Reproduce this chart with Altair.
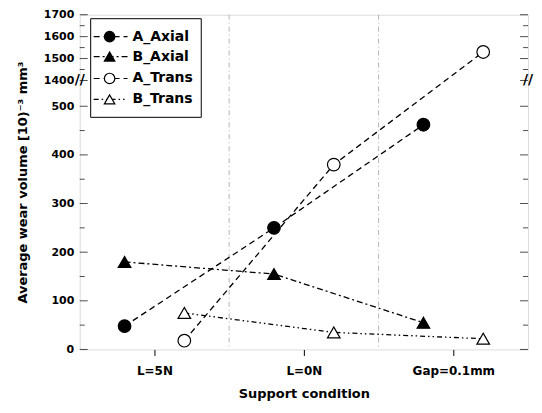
import altair as alt
import pandas as pd

conditions = ["L=5N", "L=0N", "Gap=0.1mm"]
series = ["A_Axial", "B_Axial", "A_Trans", "B_Trans"]
groups = ["Axial", "Axial", "Trans", "Trans"]
a_axial = [48, 250, 462]
b_axial = [180, 155, 55]
a_trans = [18, 380, 1530]
b_trans = [75, 35, 22]
values = [a_axial, b_axial, a_trans, b_trans]

major_ticks = [0, 100, 200, 300, 400, 500, 1400, 1500, 1600, 1700]
minor_ticks = [50, 150, 250, 350, 450, 1450, 1550, 1650]

rows = []
for s, g, vals in zip(series, groups, values):
    for c, v in zip(conditions, vals):
        rows.append({"cond": c, "series": s, "grp": g, "value": v})
df = pd.DataFrame(rows)

W, H = 450, 336
FONT = "DejaVu Sans"
cond_js = "[" + ",".join("'%s'" % c for c in conditions) + "]"

yscale = alt.Scale(domain=[0, 553, 1400, 1700], range=[H, 66, 66, 0])
xscale = alt.Scale(domain=[-0.5, len(conditions) - 0.5], nice=False, zero=False)

xaxis = alt.Axis(title="Support condition", values=list(range(len(conditions))),
                 labelExpr=cond_js + "[datum.value]", labelAngle=0, labelFont=FONT,
                 labelFontWeight="bold", labelFontSize=12, labelColor="black",
                 labelPadding=10, tickSize=6, tickColor="black", domain=False, grid=False,
                 titleFont=FONT, titleFontWeight="bold", titleFontSize=13,
                 titleColor="black", titlePadding=11)
yaxis = alt.Axis(values=major_ticks, format="d", labelOverlap=False,
                 title="Average wear volume [10)\u207b\u00b3 mm\u00b3",
                 labelFont=FONT, labelFontWeight="bold", labelFontSize=11,
                 labelColor="black", labelPadding=6, ticks=False, domain=False,
                 grid=False, titleFont=FONT, titleFontWeight="bold",
                 titleFontSize=13, titleColor="black", titlePadding=14)

dashes = [[6, 4], [6, 3, 2, 3], [6, 4], [5, 3, 1.5, 3, 1.5, 3]]
shapes = ["circle", "triangle-up", "circle", "triangle-up"]
fills = ["black", "black", "white", "white"]

base = alt.Chart(df).transform_calculate(
    xpos="indexof(" + cond_js + ", datum.cond) + (datum.grp == 'Axial' ? -0.2 : 0.2)"
)

sep_df = pd.DataFrame({"cond": conditions[:-1]})
separators = alt.Chart(sep_df).transform_calculate(
    xpos="indexof(" + cond_js + ", datum.cond) + 0.5"
).mark_rule(color="#b5b5b5", strokeDash=[5, 3, 1, 3], strokeWidth=1).encode(
    x=alt.X("xpos:Q", scale=xscale, axis=xaxis)
)

lines = base.mark_line(color="black", strokeWidth=1.3).encode(
    x=alt.X("xpos:Q", scale=xscale, axis=xaxis),
    y=alt.Y("value:Q", scale=yscale, axis=yaxis),
    strokeDash=alt.StrokeDash("series:N", scale=alt.Scale(domain=series, range=dashes), legend=None),
    detail="series:N",
)

points = base.mark_point(filled=True, stroke="black", strokeWidth=1.2, size=160, opacity=1).encode(
    x=alt.X("xpos:Q", scale=xscale, axis=xaxis),
    y=alt.Y("value:Q", scale=yscale, axis=yaxis),
    shape=alt.Shape("series:N", scale=alt.Scale(domain=series, range=shapes), legend=None),
    fill=alt.Fill("series:N", scale=alt.Scale(domain=series, range=fills), legend=None),
)

maj_df = pd.DataFrame({"v": major_ticks})
min_df = pd.DataFrame({"v": minor_ticks})
tick_layers = []
for d, sz in [(maj_df, 8), (min_df, 5)]:
    for xp in [sz / 2, W - sz / 2]:
        tick_layers.append(
            alt.Chart(d).mark_tick(orient="horizontal", color="black", size=sz, thickness=1).encode(
                y=alt.Y("v:Q", scale=yscale, axis=yaxis), x=alt.value(xp)
            )
        )

brk_df = pd.DataFrame({"v": [1400]})
breaks = [
    alt.Chart(brk_df).mark_text(text="//", font=FONT, fontSize=14, fontWeight="bold", color="black").encode(
        y=alt.Y("v:Q", scale=yscale, axis=yaxis), x=alt.value(xp)
    )
    for xp in [0, W]
]

leg_layers = [
    alt.Chart(pd.DataFrame({"a": [0]})).mark_rect(fill="white", stroke="black", strokeWidth=1).encode(
        x=alt.value(11), x2=alt.value(122), y=alt.value(4), y2=alt.value(103)
    )
]
leg_y = [22, 42, 64, 85]
for i, s in enumerate(series):
    ld = pd.DataFrame({"name": [s]})
    leg_layers.append(alt.Chart(ld).mark_rule(color="black", strokeWidth=1.2, strokeDash=dashes[i]).encode(
        x=alt.value(14), x2=alt.value(48), y=alt.value(leg_y[i])))
    leg_layers.append(alt.Chart(ld).mark_point(shape=shapes[i], filled=True, fill=fills[i], stroke="black",
                                               strokeWidth=1.2, size=110, opacity=1).encode(
        x=alt.value(30), y=alt.value(leg_y[i])))
    leg_layers.append(alt.Chart(ld).mark_text(align="left", baseline="middle", font=FONT, fontSize=14,
                                              fontWeight="bold", color="black").encode(
        x=alt.value(53), y=alt.value(leg_y[i]), text="name:N"))

chart = alt.layer(separators, lines, points, *tick_layers, *breaks, *leg_layers).properties(
    width=W, height=H, padding={"left": 8, "top": 0, "right": 0, "bottom": 0}
).configure_view(stroke="black", strokeWidth=1.2).configure(background="white")

chart.save("out.html", embed_options={"renderer": "svg", "actions": False})
